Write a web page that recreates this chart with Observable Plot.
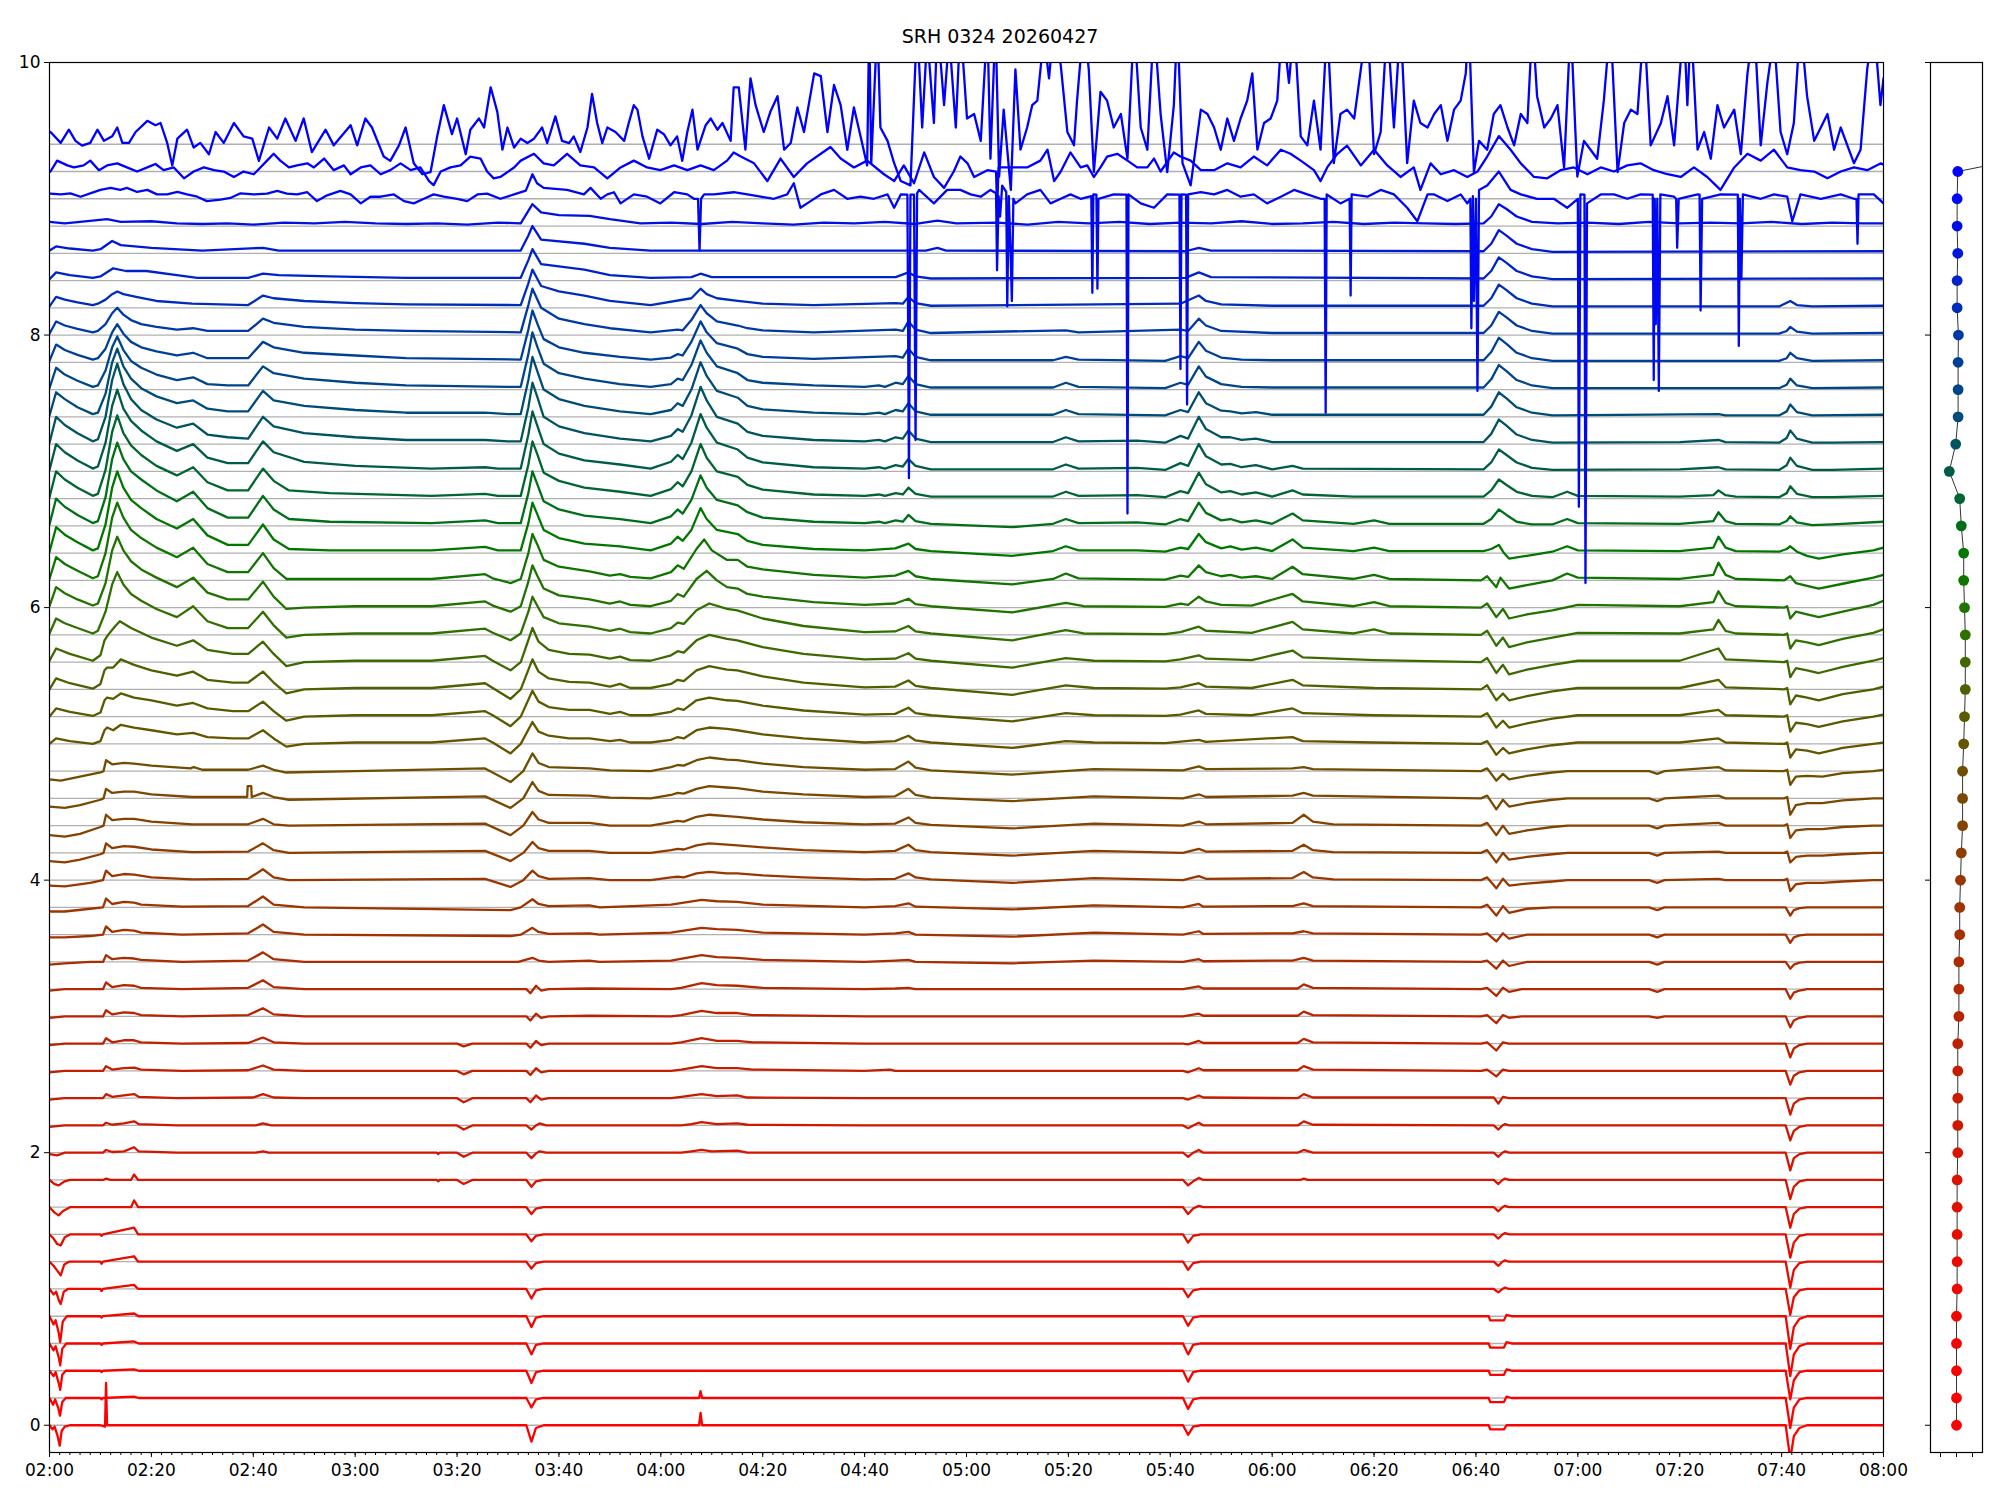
<!DOCTYPE html>
<html>
<head>
<meta charset="utf-8">
<script src="https://cdn.jsdelivr.net/npm/d3@7"></script>
<script src="https://cdn.jsdelivr.net/npm/@observablehq/plot@0.6"></script>
<style>
  body { margin: 0; background: #fff; }
  #wrap { position: relative; width: 2000px; height: 1500px; background: #fff; font-family: "DejaVu Sans", sans-serif; }
  #title { position: absolute; left: 0; top: 25px; width: 2000px; text-align: center; font-size: 19px; color: #000; }
  #main { position: absolute; left: 0; top: 0; }
  #side { position: absolute; left: 1910px; top: 0; }
</style>
</head>
<body>
<div id="wrap">
  <div id="main"></div>
  <div id="side"></div>
  <div id="title">SRH 0324 20260427</div>
</div>
<script>
// ---------------- data ----------------
const titleText = "SRH 0324 20260427";
const xTickLabels = ["02:00","02:20","02:40","03:00","03:20","03:40","04:00","04:20","04:40","05:00","05:20","05:40","06:00","06:20","06:40","07:00","07:20","07:40","08:00"];
const yTicks = [0, 2, 4, 6, 8, 10];
const sideXTicks = [-1, 0, 1];
// baseline of each of the 48 channels
const offsets = [0,0.2,0.4,0.6,0.8,1.0,1.2,1.4,1.6,1.8,2.0,2.2,2.4,2.6,2.8,3.0,3.2,3.4,3.6,3.8,4.0,4.2,4.4,4.6,4.8,5.0,5.2,5.4,5.6,5.8,6.0,6.2,6.4,6.6,6.8,7.0,7.2,7.4,7.6,7.8,8.0,8.2,8.4,8.6,8.8,9.0,9.2,9.4];
// position of each channel's dot in the right panel
const dotPhase = [0,0,0,0,0,0.04,0.04,0.04,0.04,0.04,0.08,0.08,0.08,0.08,0.08,0.15,0.15,0.15,0.2,0.2,0.25,0.3,0.38,0.38,0.38,0.45,0.5,0.55,0.55,0.55,0.5,0.45,0.45,0.3,0.2,-0.45,-0.05,0.1,0.1,0.1,0.12,0.04,0.04,0.08,0.04,0.04,0.08,8.5];
// colour stops (channel index -> colour)
const colorStopChannels = [0,5,10,15,20,23,26,29,32,35,37,40,43,46,47];
const colorStopValues = ["#ff0000","#ec0a00","#d51500","#b82400","#983800","#7a4800","#5a5a00","#307000","#007800","#005c48","#004c78","#0038a8","#0018d8","#0000ff","#0000ff"];

// traces: "minute:deviation" pairs (minutes after 02:00, deviation from the channel baseline)
const lowBand = [
"0:0 0.6:-0.03 1:-0.01 1.6:-0.08 2:-0.15 2.4:-0.04 3:-0.01 4:0 10:0 10.9:-0.01 11.1:0.31 11.3:0 60:0 93.6:0 94.6:-0.12 95.5:-0.02 97:0 127.5:0 127.8:0.09 128.1:0 222.5:0 223.5:-0.07 224.5:-0.01 226:0 282.5:0 282.8:-0.03 285.5:-0.03 286:0 340.8:0 341.7:-0.25 342.4:-0.08 343.5:-0.02 345:0 360:0",
"0:0 0.7:-0.05 1.1:-0.01 1.7:-0.07 2.05:-0.13 2.5:-0.03 3.2:0 10:0 10.2:-0.01 10.5:0 16.6:0.01 17.5:0 93.6:0 94.6:-0.07 95.5:-0.01 97:0 127.5:0 127.8:0.05 128.1:0 222.5:0 223.5:-0.08 224.5:-0.01 226:0 282.5:0 282.8:-0.03 285.5:-0.03 286:0.01 287:0 340.8:0 341.7:-0.22 342.4:-0.07 343.5:-0.01 345:0 360:0",
"0:0 0.8:-0.04 1.2:-0.01 1.8:-0.09 2.1:-0.14 2.5:-0.03 3.2:0 10:0 10.2:-0.01 10.5:0 16.6:0.01 17.5:0 93.6:0 94.6:-0.09 95.5:-0.01 97:0 222.5:0 223.5:-0.08 224.5:-0.01 226:0 282.5:0 282.8:-0.03 285.5:-0.03 286:0.01 287:0 340.8:0 341.7:-0.21 342.4:-0.07 343.5:-0.01 345:0 360:0",
"0:0 0.8:-0.05 1.2:-0.02 1.8:-0.1 2.1:-0.16 2.5:-0.04 3.3:0 10:0 10.2:-0.01 10.5:0 16.6:0.015 17.5:0 93.6:0 94.6:-0.08 95.5:-0.01 97:0 222.5:0 223.5:-0.08 224.5:-0.01 226:0 282.5:0 282.8:-0.03 285.5:-0.03 286:0.01 287:0 340.8:0 341.7:-0.24 342.4:-0.08 343.5:-0.02 345:0 360:0",
"0:0 0.8:-0.06 1.2:-0.03 1.8:-0.12 2.1:-0.19 2.6:-0.04 3.4:0 10:0 10.2:-0.01 10.5:0 16.6:0.02 17.5:0 93.6:0 94.6:-0.08 95.5:-0.01 97:0 222.5:0 223.5:-0.07 224.5:-0.01 226:0 282.5:0 282.8:-0.03 285.5:-0.03 286:0.01 287:0 340.8:0 341.7:-0.24 342.4:-0.08 343.5:-0.02 345:0 360:0",
"0:0 0.8:-0.04 1.3:-0.02 1.8:-0.08 2.2:-0.11 2.8:-0.02 3.6:0 10:0 10.2:-0.015 10.5:0 16.6:0.03 17.4:0 93.6:0 94.6:-0.07 95.5:-0.01 97:0 222.5:0 223.5:-0.06 224.5:-0.01 226:0 283.5:0 284.4:-0.025 285.2:0 285.7:0.01 286.5:0 340.8:0 341.7:-0.19 342.4:-0.06 343.5:-0.01 345:0 360:0",
"0:0 0.8:-0.03 1.4:-0.06 2.2:-0.1 2.9:-0.02 3.8:0 10:0 10.2:-0.015 10.5:0 16.6:0.04 17.4:0 93.6:0 94.6:-0.05 95.5:-0.01 97:0 222.5:0 223.5:-0.06 224.5:-0.01 226:0 283.5:0 284.4:-0.03 285.2:0 285.7:0.01 286.5:0 340.8:0 341.7:-0.19 342.4:-0.06 343.5:-0.01 345:0 360:0",
"0:0 0.8:-0.03 1.5:-0.07 2.2:-0.08 3:-0.02 4:0 10:0 10.2:-0.01 10.5:0 16.6:0.05 17.4:0 93.6:0 94.6:-0.05 95.5:-0.01 97:0 222.5:0 223.5:-0.06 224.5:-0.01 226:0 283.5:0 284.4:-0.03 285.2:0 285.7:0.01 286.5:0 340.8:0 341.7:-0.17 342.4:-0.06 343.5:-0.01 345:0 360:0",
"0:0 1:-0.04 1.8:-0.06 2.6:-0.03 4:0 16:0 16.6:0.05 17.4:0 93.6:0 94.6:-0.05 95.5:-0.01 97:0 222.5:0 223.5:-0.05 224.5:-0.01 225.6:0.01 226.5:0 283.5:0 284.4:-0.03 285.2:0 285.7:0.01 286.5:0 340.8:0 341.7:-0.15 342.4:-0.05 343.5:-0.01 345:0 360:0",
"0:0 1:-0.03 1.8:-0.04 3:-0.01 4:0 10.5:0 11.1:0.01 12:0 16:0 16.6:0.04 17.4:0 76:0 76.3:-0.01 76.6:0 80:0 81.3:-0.03 83:0 93.6:0 94.6:-0.05 95.5:-0.01 97:0 222.5:0 223.5:-0.04 224.5:-0.01 225.6:0.015 226.5:0 245.5:0 246.2:0.01 247:0 283.5:0 284.4:-0.03 285.2:0 285.7:0.01 286.5:0 340.8:0 341.7:-0.14 342.4:-0.05 343.5:-0.01 345:0 360:0",
"0:-0.01 1.5:-0.02 3:0 10.5:0 11.1:0.02 12.3:0.005 14.6:0.01 16.6:0.04 17.5:0.01 25:0 40.5:0 41.9:0.01 43:0 76:0 76.3:-0.01 76.6:0 80:0 81.3:-0.03 83:0 93.6:0 94.6:-0.04 95.5:-0.005 96.2:0.01 97.5:0 124:0 126:0.01 128:0.02 130:0.01 135:0.015 137:0 222.5:0 223.5:-0.03 224.5:0 225.6:0.02 226.5:0 245:0 246.2:0.02 248:0 283.5:0 284.4:-0.03 285.2:0 285.7:0.01 286.5:0 340.8:0 341.7:-0.13 342.4:-0.04 343.5:-0.01 345:0 360:0",
"0:-0.01 3:0 10.5:0 11.1:0.02 12.3:0.005 14.6:0.015 16.6:0.03 17.5:0.01 25:0 40.5:0 41.9:0.015 43.5:0 80:0 81.3:-0.03 83:0 93.6:0 94.6:-0.03 95.5:0 96.2:0.015 97.5:0 124:0 126:0.01 128:0.025 131:0.01 135:0.015 137:0.005 160:0 222.5:0 223.5:-0.02 224.5:0 225.6:0.02 226.5:0 245:0 246.2:0.03 248:0.005 283.5:0 284.4:-0.03 285.2:0 285.7:0.01 286.5:0 340.8:0 341.7:-0.11 342.4:-0.04 343.5:-0.01 345:0 360:0",
"0:-0.01 3:0 10.5:0 11.1:0.03 12.3:0.01 14.6:0.02 16.6:0.03 17.5:0.01 25:0 40:0.005 41.9:0.03 44:0.005 50:0 80:0 81.3:-0.03 83:0 93.6:0 94.4:-0.03 95.5:0.02 96.5:-0.01 98:0 122:0 124:0.01 128:0.03 131:0.015 135:0.02 137:0.005 160:0 222.5:0 223.5:-0.01 225.6:0.02 226.5:0.005 245:0 246.2:0.03 248:0.005 283.5:0.005 284.4:-0.04 285.3:0.01 286.5:0 340.8:0 341.7:-0.12 342.4:-0.04 343.5:-0.01 345:0 360:0",
"0:-0.01 3:0 10.5:0 11.1:0.035 12.3:0.01 14.6:0.02 16.6:0.025 18:0.01 26:0 39:0.005 41.9:0.04 44:0.01 50:0 80:0 81.3:-0.025 83:0 93.6:0 94.4:-0.03 95.5:0.02 96.5:-0.01 98:0 122:0 124:0.01 128:0.035 131:0.02 135:0.02 138:0.01 160:0 165:0.01 166:0 222.5:0 223.5:-0.01 225.6:0.02 226.5:0.005 245:0.005 246.2:0.035 248:0.01 281:0 282.2:0.01 284:-0.04 285.3:0.01 286.5:0 340.8:0 341.7:-0.1 342.4:-0.035 343.5:-0.01 345:0 360:0",
"0:-0.01 3:0 10.5:0 11.1:0.04 12.3:0.01 14.6:0.025 16.6:0.025 18:0.01 26:0 39:0.005 41.9:0.045 44:0.01 50:0 80:0 81.3:-0.02 83:0 93.6:0 94.4:-0.03 95.5:0.02 96.5:-0.01 98:0 122:0 124:0.01 128:0.04 131:0.02 135:0.02 138:0.01 160:0 222.5:0 223.5:-0.005 225.6:0.02 226.5:0.005 245:0.005 246.2:0.035 248:0.01 281:0 282.2:0.01 284:-0.05 285.3:0.01 286.5:0 340.8:0 341.7:-0.1 342.4:-0.035 343.5:-0.01 345:0 360:0",
"0:-0.01 3:0 10.5:0 11.1:0.045 12.3:0.015 14.6:0.03 16.6:0.025 18:0.01 26:0 39:0.01 41.9:0.06 44:0.015 50:0 93.6:0 94.4:-0.03 95.5:0.02 96.5:-0.01 98:0 106:0.005 122:0 124:0.01 128:0.04 131:0.025 135:0.025 138:0.01 160:0 222.5:0 225.6:0.02 226.5:0.005 245:0.005 246.2:0.035 248:0.01 281:0 282.2:0.01 284:-0.05 285.3:0.01 286.5:-0.01 289:0 314:0 315.6:-0.01 317:0 340.8:0 341.7:-0.08 342.4:-0.03 343.5:-0.01 345:0 360:0",
"0:-0.01 3:0 10.5:0 11.1:0.05 12.3:0.015 14.6:0.03 16.6:0.025 18:0.01 26:0 39:0.01 41.9:0.065 44:0.015 50:0 93.6:0 94.4:-0.03 95.5:0.025 96.5:-0.01 98:0 106:0.005 122:0 124:0.01 128:0.045 131:0.03 135:0.025 140:0.01 160:0 166:0.005 168.6:0.01 170:0 222.5:0 225.6:0.02 226.5:0.005 245:0.005 246.2:0.035 248:0.01 281:0 282.2:0.01 284:-0.05 285.3:0.01 286.5:-0.02 289:0 314:0 315.6:-0.02 317:0 340.8:0 341.7:-0.07 342.4:-0.025 343.5:-0.01 345:0 360:0",
"0:-0.02 3:-0.01 8:0 10.5:0 11.1:0.05 12.3:0.02 14.6:0.03 16.6:0.025 18:0.015 26:0 39:0.01 41.9:0.07 44:0.02 50:0 92:0 94.8:0.03 96:0.01 98:0 106:0.01 108:0 122:0.01 128:0.05 131:0.035 135:0.03 140:0.015 160:0 166:0.01 168.6:0.015 170:0 189:-0.01 205:0.01 222.5:0 225.6:0.02 226.5:0.005 244:0.01 246.2:0.03 248:0.01 281:0 282.2:0.01 284:-0.05 285.3:0.01 286.5:-0.03 290:0 314:0 315.6:-0.02 317:0 340.8:0 341.7:-0.05 342.4:-0.02 343.5:-0.005 345:0 360:0",
"0:-0.02 3:-0.02 8:-0.01 10.5:0 11.1:0.06 12.3:0.02 14.6:0.035 16.6:0.03 18:0.015 26:0 39:0.01 41.9:0.075 44:0.02 50:0 90.5:-0.01 92.5:0 94.8:0.05 96:0.02 98:0.005 106:0.01 108:0 122:0.015 128:0.05 131:0.04 135:0.035 140:0.015 160:0 166:0.01 168.6:0.02 170:0 189:-0.015 205:0.015 222.5:0 225.6:0.025 226.5:0.005 244:0.01 246.2:0.025 248:0.01 281:0 282.2:0.01 284:-0.05 285.3:0.01 286.5:-0.03 290:0 314:0 315.6:-0.02 317:0 340.8:0 341.7:-0.06 342.4:-0.02 343.5:-0.005 345:0 360:0",
"0:-0.03 3:-0.03 8:-0.01 10.5:0 11.1:0.065 12.3:0.025 14.6:0.04 16.6:0.035 18:0.02 26:0.005 39:0.01 41.9:0.08 44:0.02 50:0 90.5:-0.02 92.5:0 94.8:0.06 96:0.025 98:0.01 106:0.015 108:0 122:0.02 128:0.055 131:0.045 135:0.04 140:0.02 160:0 166:0.01 168.6:0.03 170:0.005 189:-0.015 205:0.015 222.5:0 225.6:0.025 226.5:0.005 244:0.01 246.2:0.03 248:0.01 281:0 282.2:0.02 284:-0.06 285.3:0.01 286.5:-0.04 290:-0.01 295:0 314:0 315.6:-0.02 317:0 340.8:0 341.7:-0.06 342.4:-0.02 343.5:-0.005 345:0 360:0",
"0:-0.04 3:-0.045 8:-0.02 10.5:0 11.1:0.07 12.3:0.03 14.6:0.045 16.6:0.04 20:0.02 28:0.005 39:0.01 41.9:0.08 44:0.02 47:0 85.5:0.01 90.5:-0.05 93:0 94.8:0.07 96:0.03 98:0.01 106:0.015 110:0 118:0 122:0.02 123.3:0.025 124.5:0.02 127:0.05 129.5:0.06 133:0.05 135:0.05 140:0.035 148:0.02 160:0.005 166:0.01 168.6:0.05 170:0.02 173:0.005 189:-0.02 205:0.015 222.5:0 225.6:0.03 227:0.01 244:0.015 246.2:0.06 248:0.02 252:0.005 281:0 282.2:0.02 284:-0.06 285.3:0.01 286.5:-0.04 290:-0.025 295:-0.01 298:0 314:0 315.6:-0.02 317:0 327.6:0.01 329:0 340.5:0 341.1:0.01 341.7:-0.08 342.8:-0.03 345:-0.02 348:-0.02 352:-0.01 358:0 360:0",
"0:-0.06 3:-0.07 6:-0.05 10:-0.01 10.6:0 11.1:0.07 12.3:0.035 14.6:0.05 16.6:0.045 20:0.025 28:0.005 39:0.01 41.9:0.07 44:0.02 47:0 85.5:0.015 90.5:-0.06 93:0 94.8:0.08 96:0.035 98:0.015 106:0.015 110:0 118:0 122:0.02 123.3:0.03 124.5:0.025 127:0.055 129.5:0.07 133:0.06 135:0.055 140:0.04 148:0.02 160:0.005 166:0.015 168.6:0.06 170:0.02 173:0.005 189:-0.02 205:0.015 222.5:0 225.6:0.03 227:0.01 244:0.015 246.2:0.06 248:0.02 252:0.005 281:0 282.2:0.02 284:-0.07 285.3:0 286.5:-0.05 290:-0.03 295:-0.01 298:0 314:0 315.6:-0.02 317:0 327.6:0.01 329:0 340.5:0 341.1:0.01 341.7:-0.07 342.8:-0.03 345:-0.02 348:-0.02 352:-0.01 358:0 360:0",
"0:-0.07 3:-0.08 6:-0.06 10:-0.01 10.6:0 11.1:0.08 12.3:0.04 14.6:0.05 16.6:0.05 20:0.03 28:0.01 39:0.01 41.9:0.05 44:0.01 47:0 85.5:0.015 90.5:-0.07 93:0 94.8:0.1 96:0.045 98:0.02 106:0.02 110:0 118:0 122:0.025 123.3:0.035 124.5:0.03 127:0.065 129.5:0.08 133:0.07 135:0.065 140:0.045 148:0.025 160:0.01 166:0.015 168.6:0.06 170:0.02 173:0.005 189:-0.02 205:0.015 222.5:0 225.6:0.03 227:0.01 244:0.02 246.2:0.08 248:0.03 252:0.01 281:0 282.2:0.02 284:-0.07 285.3:0 286.5:-0.06 290:-0.035 295:-0.01 298:0 314:0 315.6:-0.02 317:0 327.6:0.02 329:0 340.5:0 341.1:0.01 341.7:-0.09 342.8:-0.035 345:-0.025 348:-0.025 352:-0.01 358:0 360:0",
"0:-0.06 3:-0.07 6:-0.05 10:-0.01 10.6:0 11.1:0.07 12.3:0.04 14.6:0.05 16.6:0.05 20:0.03 28:0.01 38.8:0.01 38.9:0.09 39.6:0.09 39.7:0.01 41.9:0.04 44:0.01 47:-0.01 85.5:0.015 90.5:-0.07 93:0 94.8:0.12 96:0.055 98:0.025 106:0.02 110:0.005 118:0 122:0.025 123.3:0.04 124.5:0.035 127:0.07 129.5:0.09 133:0.08 135:0.075 140:0.05 148:0.03 160:0.01 166:0.015 168.6:0.07 170:0.025 173:0.005 189:-0.02 205:0.015 222.5:0 225.6:0.03 227:0.01 244:0.02 246.2:0.04 248:0.02 281:0 282.2:0.02 284:-0.08 285.3:-0.01 286.5:-0.06 290:-0.035 295:-0.01 298:0 314:0 315.6:-0.02 317:0 327.6:0.02 329:0 340.5:0 341.1:0.01 341.7:-0.12 342.8:-0.05 345:-0.035 348:-0.035 352:-0.015 358:0 360:0",
"0:-0.06 2.2:-0.07 4.8:-0.05 10:-0.01 10.6:0 11.1:0.08 12.3:0.05 14.6:0.06 16.6:0.055 20:0.04 27.7:0.02 28.3:0.03 30:0.01 39:0.01 41.9:0.04 44:0.01 46.3:-0.01 60:0 85.5:0.02 90.5:-0.08 93:0 94.8:0.13 96:0.06 98:0.03 106:0.02 110:0.005 118:0 122:0.03 123.3:0.045 124.5:0.04 127:0.08 129.5:0.1 133:0.085 135:0.08 140:0.055 148:0.03 160:0.01 166:0.015 168.6:0.07 170:0.025 173:0.005 189:-0.025 205:0.015 222.5:0.005 225.6:0.035 227:0.015 244:0.02 246.2:0.03 248:0.015 281:0 282.2:0.02 284:-0.07 285.3:-0.02 286.5:-0.06 290:-0.035 295:-0.01 298:0 314:0 315.6:-0.02 317:0 327.6:0.03 329:0.005 340.5:0 341.1:0.01 341.7:-0.1 342.8:-0.04 345:-0.035 348:-0.04 352:-0.015 358:0 360:0.01"
];

const midBand = [
"0:0 1.3:0.04 4:0.02 8.5:0 10:0.02 10.8:0.1 11.3:0.12 12.5:0.1 14:0.14 16.6:0.12 20:0.1 25:0.07 28.2:0.08 31:0.05 36:0.04 39:0.04 41.9:0.1 44:0.04 46.5:-0.02 50:0 60:0.01 75:0.01 85.5:0.04 87:0.01 90.5:-0.07 92.5:0 94.8:0.16 96:0.09 98:0.06 102:0.04 106:0.04 110:0.02 112:0.03 114:0.01 118:0.01 122:0.03 123.3:0.05 124.5:0.04 127:0.1 129.5:0.12 133:0.11 135:0.1 140:0.07 148:0.04 160:0.01 166:0.02 168.6:0.06 170:0.025 173:0.01 189:-0.03 199.5:0.02 205:0.01 219:0.005 225.6:0.03 227:0.015 244:0.05 246:0.02 260:0.01 281:0 282.2:0.02 284:-0.08 285.3:-0.03 286.5:-0.07 290:-0.04 295:-0.01 300:0.01 320:0.01 327.6:0.04 329:0.01 340.5:0 341.1:0.01 341.7:-0.1 342.8:-0.04 345:-0.05 347.3:-0.07 352:-0.03 358:0 360:0.01",
"0:0 1.3:0.06 4:0.035 8.5:0.005 10:0.03 10.8:0.12 11.3:0.14 12.5:0.13 14:0.17 16.6:0.14 20:0.12 25:0.08 28.2:0.1 31:0.06 36:0.04 39:0.04 41.9:0.11 44:0.04 46.5:-0.03 50:0 60:0.01 75:0.01 85.5:0.04 87:0.01 90.5:-0.07 92.5:0 94.8:0.19 96:0.11 98:0.07 102:0.05 106:0.05 110:0.02 112:0.035 114:0.01 118:0.01 122:0.035 123.3:0.06 124.5:0.05 127:0.12 129.5:0.14 133:0.12 135:0.115 140:0.08 148:0.045 160:0.015 166:0.02 168.6:0.065 170:0.025 173:0.01 189:-0.035 199.5:0.025 205:0.01 219:0.005 222:0.015 225.6:0.045 227:0.02 236:0.01 244:0.06 246:0.025 260:0.01 281:0 282.2:0.025 284:-0.08 285.3:-0.03 286.5:-0.08 290:-0.05 295:-0.015 300:0.01 320:0.01 327.6:0.05 329:0.01 340.5:0 341.1:0.01 341.7:-0.11 342.8:-0.045 345:-0.055 347.3:-0.075 352:-0.035 358:0 360:0.015",
"0:0 1.3:0.08 4:0.045 8.5:0.005 10:0.04 10.8:0.14 11.3:0.16 12.5:0.16 14:0.22 16.6:0.18 20:0.14 25:0.1 28.2:0.13 31:0.07 36:0.05 39:0.05 41.9:0.13 44:0.05 46.5:-0.03 50:0 60:0.01 75:0.01 85.5:0.045 87:0.01 90.5:-0.07 92.5:0 94.8:0.22 96:0.13 98:0.08 102:0.055 106:0.05 110:0.02 112:0.04 114:0.01 118:0.01 122:0.04 123.3:0.07 124.5:0.06 127:0.14 129.5:0.17 133:0.145 135:0.14 140:0.095 148:0.05 160:0.015 166:0.02 168.6:0.065 170:0.025 173:0.01 189:-0.04 199.5:0.03 205:0.01 219:0.005 222:0.015 225.6:0.045 227:0.02 236:0.01 244:0.07 246:0.03 260:0.01 281:0 282.2:0.03 284:-0.08 285.3:-0.03 286.5:-0.08 290:-0.05 295:-0.015 300:0.01 320:0.01 327.6:0.07 329:0.015 340.5:0 341.1:0.01 341.7:-0.11 342.8:-0.045 345:-0.06 347.3:-0.08 352:-0.035 358:0 360:0.02",
"0:0.01 1.3:0.1 4:0.06 8.5:0.01 10:0.05 10.8:0.16 11.5:0.2 12.8:0.26 13.8:0.3 16:0.25 20:0.18 25:0.12 28.2:0.16 31:0.09 36:0.06 39:0.06 41.9:0.15 44:0.06 46.5:-0.03 50:0 60:0.01 75:0.01 85.5:0.045 87:0.01 90.5:-0.06 92.5:0 94.8:0.25 96:0.15 98:0.09 102:0.06 106:0.055 110:0.025 112:0.04 114:0.015 118:0.01 122:0.05 123.3:0.08 124.5:0.07 127:0.16 129.5:0.2 133:0.17 135:0.16 140:0.11 148:0.06 160:0.02 166:0.025 168.6:0.065 170:0.025 173:0.01 189:-0.04 199.5:0.03 205:0.01 219:0.005 222:0.02 225.6:0.05 227:0.025 236:0.015 244:0.085 246:0.035 260:0.015 281:0 282.2:0.03 284:-0.08 285.3:-0.02 286.5:-0.09 290:-0.055 295:-0.02 300:0.01 320:0.01 327.6:0.1 329:0.02 340.5:0 341.1:0.01 341.7:-0.11 342.8:-0.045 345:-0.06 347.3:-0.08 352:-0.035 358:0.01 360:0.03",
"0:0.01 1.3:0.12 3:0.085 5.5:0.05 8.5:0.01 9.5:0.03 11:0.17 12.3:0.37 13.3:0.46 14.5:0.37 16:0.3 18:0.25 21:0.19 25:0.13 28.2:0.21 31:0.1 35:0.05 39:0.05 41.9:0.17 44:0.07 46.5:-0.02 50:0 60:0.01 75:0.01 85.5:0.045 87:0.015 90.5:-0.04 92.5:0.01 94:0.17 94.8:0.28 95.8:0.21 97:0.13 100:0.085 106:0.06 110:0.03 112:0.045 114:0.02 118:0.01 122:0.05 123.3:0.09 124.5:0.08 127:0.18 129.5:0.23 133:0.19 135:0.18 140:0.12 148:0.065 160:0.02 166:0.025 168.6:0.065 170:0.025 173:0.01 189:-0.04 199.5:0.035 203:0.01 219:0.005 222:0.02 225.6:0.06 227:0.03 236:0.015 244:0.095 246:0.04 256:0.01 260:0.04 263:0.01 281:0 282.2:0.03 284:-0.08 285.3:-0.02 286.5:-0.09 290:-0.055 295:-0.02 300:0.015 320:0.01 326.6:0.04 327.6:0.11 329:0.03 331:0.01 340.5:0 341.1:0.01 341.7:-0.1 342.8:-0.04 345:-0.055 347.3:-0.075 352:-0.03 358:0.015 360:0.04",
"0:0.01 1.3:0.15 3:0.105 5.5:0.06 8.5:0.015 9.5:0.03 11:0.18 12.3:0.42 13.3:0.52 14.5:0.42 16:0.34 18:0.28 21:0.22 25:0.15 28.2:0.22 31:0.11 35:0.06 39:0.06 41.9:0.19 44:0.08 46.5:-0.01 50:0 60:0.01 75:0.01 85.5:0.045 87:0.015 90.5:-0.03 92.5:0.01 94:0.19 94.8:0.31 95.8:0.23 97:0.14 100:0.09 106:0.06 110:0.03 112:0.045 114:0.02 118:0.01 122:0.05 123.3:0.1 124.5:0.08 127:0.21 129:0.27 131:0.2 133:0.15 135.1:0.14 137:0.1 140:0.08 150:0.04 160:0.02 166:0.03 168.6:0.065 170:0.025 173:0.01 189:-0.035 199.5:0.035 203:0.01 219:0.005 222:0.03 223.5:0.02 225.6:0.08 227:0.045 230:0.02 236:0.015 244:0.1 246:0.045 256:0.01 260:0.04 263:0.01 281:0 282.2:0.03 284:-0.07 285.3:-0.01 286.5:-0.08 290:-0.05 295:-0.02 300:0.02 320:0.01 326.6:0.04 327.6:0.12 329:0.035 331:0.01 340.5:0 341.1:0.01 341.7:-0.08 342.8:-0.03 345:-0.05 347.3:-0.07 352:-0.03 358:0.02 360:0.05",
"0:0.01 1.3:0.17 3:0.12 5.5:0.07 8.5:0.015 9.5:0.03 11:0.2 12.3:0.46 13.3:0.57 14.5:0.46 16:0.37 18:0.31 21:0.24 25:0.17 28.2:0.24 31:0.12 35:0.06 39:0.06 41.9:0.2 44:0.09 46.5:0.01 50:0.01 60:0.01 75:0.01 85.5:0.045 87:0.015 90.5:-0.02 92.5:0.01 94:0.2 94.8:0.34 95.8:0.26 97:0.15 100:0.1 106:0.065 110:0.035 112:0.045 114:0.025 118:0.015 122:0.06 123.3:0.11 124.5:0.085 127:0.23 128.5:0.3 130:0.22 133:0.15 135.1:0.15 137:0.1 140:0.08 150:0.04 160:0.02 166:0.035 168.6:0.07 170:0.03 173:0.01 189:-0.03 197:0.01 199.5:0.05 202:0.015 219:0.005 222:0.035 223.5:0.025 225.6:0.11 227:0.06 230:0.03 231.8:0.04 234:0.02 236.8:0.03 240:0.01 244:0.1 246:0.045 256:0.01 260:0.04 263:0.01 281:0 282.2:0.03 284:-0.05 284.8:0.02 286.5:-0.06 290:-0.035 295:0 297.9:0.05 300:0.02 320:0.01 326.6:0.04 327.6:0.13 329:0.04 331:0.01 340.5:0 341.7:0.03 342.8:-0.02 345:-0.04 347.3:-0.06 352:-0.025 358:0.02 360:0.04",
"0:0.01 1.3:0.19 3:0.135 5.5:0.08 8.5:0.02 9.5:0.035 11:0.21 12.3:0.48 13.3:0.6 14.5:0.48 16:0.39 18:0.33 21:0.25 25:0.18 28.2:0.25 31:0.13 35:0.06 39:0.06 41.9:0.21 44:0.1 47:0.03 55:0.02 75:0.02 85.5:0.045 88:0.02 92.5:0.02 94:0.22 94.8:0.37 95.8:0.28 97:0.17 100:0.11 105:0.07 112:0.05 118:0.02 122:0.07 123.3:0.12 124.3:0.09 126:0.17 127.8:0.33 129:0.25 131:0.17 135.1:0.14 137:0.09 140:0.06 150:0.03 160:0.02 166:0.035 168.6:0.07 170:0.03 173:0.015 189:-0.02 197:0.015 199.5:0.05 202:0.02 213.5:0.02 219:0.01 222:0.04 223.5:0.03 225.6:0.14 227:0.08 230:0.035 231.8:0.05 234:0.025 236.8:0.04 240:0.015 244:0.1 246:0.04 256:0.015 260:0.04 263:0.015 281.5:0.015 283:0.03 284.5:0.06 285.5:0 286.5:-0.04 290:-0.02 295:0.01 297.9:0.05 300:0.02 320:0.015 326.6:0.04 327.6:0.12 329:0.04 331:0.015 339.5:0.01 341:0.03 341.7:0.05 343:0.01 345:-0.02 347.3:-0.04 352:-0.01 358:0.02 360:0.04",
"0:0.01 1.3:0.2 3:0.14 5.5:0.08 8.5:0.02 9.5:0.035 11:0.21 12.3:0.49 13.3:0.61 14.5:0.49 16:0.4 18:0.34 21:0.26 25:0.18 28.2:0.25 31:0.13 35:0.06 39:0.06 41.9:0.22 44:0.12 47:0.05 55:0.03 75:0.02 85.5:0.04 88:0.02 92.5:0.02 94:0.24 94.8:0.4 95.8:0.3 97:0.18 100:0.12 105:0.075 112:0.05 118:0.02 122:0.07 123.3:0.12 124.3:0.09 126:0.19 127.8:0.37 129:0.28 131:0.19 135.1:0.15 137:0.1 140:0.06 150:0.03 160:0.02 162.8:0.03 164:0.02 166.1:0.04 167.5:0.03 168.6:0.08 170:0.035 173:0.015 189:-0.01 197:0.015 199.5:0.05 202:0.02 213.5:0.025 219:0.01 222:0.05 223.5:0.035 225.6:0.17 227:0.095 230:0.04 231.8:0.05 234:0.025 236.8:0.04 240:0.015 244:0.09 246:0.04 256:0.015 260:0.04 263:0.015 281.5:0.015 283:0.05 284.5:0.12 286:0.08 288:0.03 291:0.01 295:0.01 297.9:0.05 300:0.02 320:0.015 326.6:0.035 327.6:0.1 329:0.035 331:0.015 339.5:0.01 341:0.035 341.7:0.07 343:0.025 346:0.005 350:0.01 360:0.03",
"0:0.01 1.3:0.2 3:0.14 5.5:0.08 8.5:0.02 9.5:0.035 11:0.21 12.3:0.49 13.3:0.61 14.5:0.48 16:0.39 18:0.32 21:0.24 25:0.17 28.2:0.23 31:0.12 35:0.06 39:0.06 41.9:0.22 44:0.13 47:0.06 55:0.04 75:0.02 85.5:0.035 88:0.02 92.5:0.02 94:0.25 94.8:0.42 95.8:0.32 97:0.19 100:0.13 105:0.08 112:0.05 118:0.02 122:0.07 123.3:0.12 124.3:0.09 126:0.2 127.8:0.4 129:0.3 131:0.2 135.1:0.16 137:0.1 140:0.065 150:0.03 160:0.02 162.8:0.03 164:0.02 166.1:0.04 167.5:0.03 168.6:0.08 170:0.035 173:0.015 197:0.015 199.5:0.05 202:0.02 213.5:0.025 219:0.01 222:0.055 223.5:0.04 225.6:0.19 227:0.105 230:0.045 231.8:0.055 234:0.03 236.8:0.045 240:0.015 244:0.06 246:0.03 256:0.015 281.5:0.015 283:0.06 284.5:0.14 286:0.1 288:0.05 291:0.02 295:0.01 297.9:0.05 300:0.02 320:0.015 326.6:0.025 327.6:0.06 329:0.025 331:0.015 339.5:0.01 341:0.04 341.7:0.09 343:0.035 346:0.01 350:0.01 360:0.02",
"0:0.01 1.3:0.2 3:0.14 5.5:0.08 8.5:0.02 9.5:0.035 11:0.21 12.3:0.48 13.3:0.6 14.5:0.46 16:0.37 18:0.3 21:0.22 25:0.15 28.2:0.2 31:0.1 35:0.06 39:0.06 41.9:0.22 44:0.14 50:0.07 60:0.04 75:0.02 85.5:0.03 88:0.02 92.5:0.02 94:0.27 94.8:0.44 95.8:0.33 97:0.2 100:0.13 105:0.08 112:0.05 118:0.02 122:0.07 123.3:0.12 124.3:0.09 126:0.21 127.8:0.42 129:0.32 131:0.21 135.1:0.16 137:0.1 140:0.065 150:0.03 160:0.02 162.8:0.03 164:0.02 166.1:0.045 167.5:0.035 168.6:0.09 170:0.04 173:0.015 197:0.015 199.5:0.05 202:0.02 213.5:0.025 219:0.01 222:0.06 223.5:0.04 225.6:0.2 227:0.11 230:0.05 231.8:0.055 234:0.03 236.8:0.045 240:0.015 244:0.04 246:0.02 281.5:0.015 283:0.065 284.5:0.16 286:0.12 288:0.065 291:0.025 295:0.01 320:0.015 327.6:0.03 329:0.015 339.5:0.01 341:0.045 341.7:0.1 343:0.04 346:0.01 350:0.01 360:0.02",
"0:0.01 1.3:0.2 3:0.14 5.5:0.08 8.5:0.02 9.5:0.035 11:0.2 12.3:0.47 13.3:0.59 14.5:0.44 16:0.33 18:0.25 21:0.18 25:0.12 28.2:0.15 31:0.07 35:0.05 39:0.04 41.9:0.2 44:0.13 50:0.08 60:0.05 70:0.03 85.5:0.03 90:0.02 92.5:0.02 94:0.27 94.8:0.45 95.8:0.34 97:0.2 100:0.13 105:0.08 112:0.04 118:0.02 122:0.06 123.3:0.11 124.3:0.09 126:0.21 127.8:0.42 129:0.32 131:0.2 135.1:0.15 137:0.09 140:0.06 150:0.03 160:0.02 162.8:0.03 164:0.02 166.1:0.05 167.5:0.04 168.6:0.1 170:0.04 173:0.015 197:0.015 199.5:0.05 202:0.02 213.5:0.025 219:0.01 222:0.06 223.5:0.04 225.6:0.2 227:0.11 230:0.05 231.8:0.05 234:0.03 236.8:0.04 240:0.015 281.5:0.015 283:0.075 284.5:0.18 286:0.135 288:0.07 291:0.03 295:0.01 320:0.015 327.6:0.03 329:0.015 339.5:0.01 341:0.045 341.7:0.1 343:0.04 346:0.01 350:0.01 360:0.015",
"0:0.01 1.3:0.18 3:0.13 5.5:0.07 8.5:0.02 9.5:0.03 11:0.17 12.3:0.4 13.3:0.5 14.5:0.37 16:0.28 18:0.21 21:0.15 25:0.1 28.2:0.12 31:0.06 35:0.04 39:0.04 41.9:0.19 44:0.12 50:0.08 60:0.05 70:0.03 85.5:0.03 90:0.02 92.5:0.02 94:0.27 94.8:0.44 95.8:0.33 97:0.2 100:0.13 105:0.08 112:0.04 118:0.02 122:0.05 123.3:0.1 124.3:0.08 126:0.2 127.8:0.4 129:0.3 131:0.19 135.1:0.14 137:0.08 140:0.055 150:0.03 160:0.02 162.8:0.03 164:0.02 166.1:0.05 167.5:0.04 168.6:0.1 170:0.04 173:0.015 197:0.015 199.5:0.05 202:0.02 219:0.01 222:0.05 223.5:0.035 225.6:0.18 227:0.1 230:0.045 231.8:0.04 234:0.025 236.8:0.035 240:0.015 281.5:0.015 283:0.075 284.5:0.18 286:0.135 288:0.07 291:0.03 295:0.01 327.6:0.02 329:0.01 339.5:0.01 341:0.04 341.7:0.09 343:0.035 346:0.01 360:0.015",
"0:0.01 1.3:0.16 3:0.11 5.5:0.065 8.5:0.02 9.5:0.03 11:0.14 12.3:0.31 13.3:0.39 14.5:0.29 16:0.21 18:0.16 21:0.11 25:0.07 28.2:0.09 31:0.04 35:0.03 39:0.03 41.9:0.17 44:0.12 50:0.08 60:0.05 70:0.03 90:0.02 92.5:0.02 94:0.26 94.8:0.42 95.8:0.31 97:0.19 100:0.12 105:0.08 112:0.04 118:0.02 122:0.04 123.3:0.08 124.3:0.07 126:0.18 127.8:0.36 129:0.27 131:0.17 135.1:0.12 137:0.07 140:0.05 150:0.03 160:0.02 162.8:0.03 164:0.02 166.1:0.05 167.5:0.04 168.6:0.1 170:0.04 173:0.015 197:0.015 199.5:0.05 202:0.02 219:0.01 222:0.05 223.5:0.035 225.6:0.17 227:0.095 230:0.04 234:0.02 240:0.015 281.5:0.015 283:0.075 284.5:0.18 286:0.135 288:0.07 291:0.03 295:0.01 339.5:0.01 341:0.035 341.7:0.08 343:0.03 346:0.01 360:0.015",
"0:0.01 1.3:0.13 3:0.09 5.5:0.055 8.5:0.02 9.5:0.03 11:0.1 12.3:0.22 13.3:0.28 14.5:0.21 16:0.15 18:0.11 21:0.08 25:0.05 28.2:0.07 31:0.03 39:0.03 41.9:0.15 44:0.11 50:0.07 60:0.05 70:0.03 92.5:0.02 94:0.24 94.8:0.38 95.8:0.28 97:0.17 100:0.11 105:0.07 112:0.04 118:0.02 122:0.035 123.3:0.06 124.3:0.05 126:0.15 127.8:0.3 129:0.22 131:0.14 135.1:0.1 137:0.06 140:0.04 150:0.025 166.1:0.045 167.5:0.035 168.6:0.1 170:0.04 173:0.015 197:0.015 199.5:0.04 202:0.02 219:0.01 222:0.045 223.5:0.03 225.6:0.15 227:0.085 230:0.035 234:0.02 240:0.015 281.5:0.015 283:0.075 284.5:0.18 286:0.135 288:0.07 291:0.03 295:0.01 339.5:0.01 341:0.03 341.7:0.07 343:0.03 346:0.01 360:0.015",
"0:0.01 1.3:0.1 3:0.07 5.5:0.045 8.5:0.02 9.5:0.03 11:0.08 12.3:0.16 13.3:0.2 14.5:0.15 16:0.11 18:0.08 21:0.06 25:0.04 28.2:0.05 31:0.03 39:0.03 41.9:0.12 44:0.09 50:0.06 60:0.04 70:0.03 92.5:0.02 94:0.22 94.8:0.34 96.5:0.2 100:0.12 105:0.08 110:0.05 118:0.02 123.3:0.04 124.3:0.035 126:0.11 127.8:0.22 129:0.16 131:0.1 135.1:0.07 137:0.05 140:0.035 150:0.02 166.1:0.04 167.5:0.03 168.6:0.1 170:0.04 173:0.015 199.5:0.035 202:0.02 222:0.04 223.5:0.03 225.6:0.12 227:0.07 230:0.03 240:0.015 281.5:0.015 283:0.07 284.5:0.17 286:0.13 288:0.07 291:0.03 295:0.01 339.5:0.01 341:0.03 341.7:0.06 343:0.025 346:0.01 360:0.015",
"0:0.01 1.3:0.08 3:0.06 5.5:0.04 8.5:0.02 9.5:0.03 11:0.06 12.3:0.1 13.3:0.12 14.5:0.1 17:0.08 21:0.05 28:0.03 39:0.02 41.9:0.09 44:0.07 50:0.05 60:0.035 70:0.025 92.5:0.02 94:0.18 94.8:0.28 96.5:0.16 100:0.12 105:0.09 110:0.05 118:0.02 126:0.07 127.8:0.14 129:0.1 131:0.07 135.1:0.05 140:0.03 150:0.02 166.1:0.035 167.5:0.03 168.6:0.08 170:0.035 173:0.015 222:0.03 225.6:0.09 227:0.05 230:0.025 240:0.015 281.5:0.015 283:0.07 284.5:0.17 286:0.13 288:0.07 291:0.03 295:0.01 339.5:0.01 341.7:0.05 343:0.02 346:0.01 360:0.015",
"0:0.01 1.3:0.06 4:0.04 8.5:0.02 10:0.03 12.5:0.09 15:0.07 19:0.07 25:0.04 29:0.02 39:0.02 41.9:0.05 45:0.04 55:0.03 70:0.02 92.5:0.02 94:0.15 94.8:0.23 96.5:0.12 105:0.08 110:0.04 118:0.02 126:0.025 127.8:0.05 130:0.025 166.1:0.025 168.6:0.06 170:0.03 173:0.015 223:0.02 225.6:0.06 228:0.025 281.5:0.015 283:0.07 284.5:0.17 286:0.13 288:0.07 291:0.03 295:0.01 360:0.015",
"0:0.02 1.3:0.05 4:0.035 8.5:0.02 10:0.03 12.3:0.09 14:0.06 20:0.04 30:0.02 41.9:0.04 45:0.02 92.5:0.02 94:0.13 94.8:0.2 96.5:0.1 105:0.07 110:0.04 118:0.02 172:0.02 174.3:0.04 176:0.02 223:0.015 225.6:0.04 228:0.02 281.5:0.015 283:0.07 284.5:0.17 286:0.13 288:0.07 291:0.03 295:0.01 360:0.015"
];

const topBand = [
"0:0.03 3:0.02 6:0.03 11.3:0.05 14:0.03 20:0.035 25:0.02 30:0.015 35:0.02 40:0.01 46:0.025 52:0.02 58:0.03 64:0.02 70:0.015 76:0.02 82:0.01 88:0.025 92.5:0.02 94.8:0.16 96.5:0.1 100:0.08 106:0.075 110:0.05 116:0.02 122:0.025 128:0.015 134:0.03 140:0.02 146:0.01 152:0.025 158:0.02 164:0.03 170:0.015 174.3:0.04 178:0.02 186:0.025 192:0.01 198:0.03 204:0.02 210:0.03 216:0.015 222:0.025 228:0.02 234:0.035 240:0.015 246:0.02 252:0.03 258:0.015 264:0.025 270:0.02 276:0.015 281.5:0.02 283:0.07 284.5:0.16 286:0.125 288:0.07 291:0.03 296:0.02 302:0.025 308:0.015 314:0.03 320:0.02 326:0.025 332:0.02 338:0.03 344:0.015 350:0.025 356:0.02 360:0.02",
"0.2:0.038 2.2:0.032 4.1:0.04 6.1:0.015 8:0.04 10:0.065 12:0.08 13.9:0.065 15.2:0.08 17.2:0.05 19.2:0.065 21.1:0.032 23.1:0.032 25.1:0.05 27:0.032 29:0.015 30.9:-0.017 33.6:-0.007 35.5:0.006 37.5:0.04 40.1:0.032 42.7:0.038 44.7:0.058 46.6:0.038 48.6:0.032 50.6:0.048 52.5:-0.017 54.5:0.025 57.1:0.058 59.1:0.032 61.1:-0.034 63:0.015 65:0.015 67.6:0.032 69.6:-0.017 71.5:-0.034 73.5:0 75.4:0.032 77.4:0.015 80:0 82:-0.017 84:0.032 85.9:0.038 88.5:0 91.2:0.032 93.5:0.06 94.8:0.18 95.7:0.114 97:0.08 101.6:0.065 104.9:0.032 106.2:0.08 108.2:0 109.5:0.032 110.8:0.048 112.1:-0.034 114.7:0.032 117.3:0.015 119.9:-0.034 122.6:0.048 125.2:0.032 126.5:0 127.3:0 127.6:-0.38 127.9:0 128.5:0.032 130.4:0.032 134.3:0.048 137:0.032 139.6:0.015 142.2:0 144.8:0.032 146.1:0.114 147.4:-0.066 149.4:-0.017 151.4:0.032 154:0.065 156.6:0 159.2:0.015 161.8:0 164.5:0.032 165.8:-0.066 167.1:0.032 168.4:0.03 168.7:-2.05 169:0.03 169.7:0.03 170:-1.77 170.3:0.04 170.7:0.065 173.6:-0.034 176.2:0.065 178.8:0.065 180.8:0.032 182.8:0.015 184.7:0.065 185.8:0.04 186:-0.525 186.3:0.02 186.6:-0.13 187:0.097 187.8:0.05 188:-0.79 188.3:0.02 188.7:-0.46 188.9:-0.75 189.2:0 189.6:-0.034 191.9:0.032 194.5:0.065 196.5:-0.034 198.5:0 200.4:0.032 202.4:0 204.5:0.02 204.7:-0.69 204.9:0.032 205.5:0.03 205.7:-0.66 205.9:0 208.9:0.032 211.4:0.03 211.6:-2.31 211.8:0.032 214.2:-0.034 216.8:-0.066 219.4:0.032 221.8:0.03 222:-1.25 222.2:0.032 223.1:0.03 223.3:-1.51 223.5:0.032 226:0.048 228.6:0.032 231.2:0.065 233.8:0.015 236.4:0.032 239:-0.034 241.7:0.015 244.3:0.065 246.9:0.032 249.5:0 250.3:0 250.5:-1.57 250.7:0.032 253.4:-0.034 255.2:0 255.4:-0.71 255.6:0.032 258.7:0.015 261.3:0.065 263.9:0.032 266.5:-0.066 268.5:-0.165 270.5:0.032 271.8:0.032 274.4:-0.017 277:0.032 278.3:-0.034 278.9:0 279.1:-0.95 279.4:0.02 279.6:-0.75 280:0 280.3:-1.41 280.6:0.065 282.2:0.097 284.5:0.2 286.8:0.065 288.8:0.032 292:0 295.3:0 297.9:-0.066 300:0 300.2:-2.26 300.5:0.032 301.3:0.03 301.5:-2.82 301.8:-0.034 304.5:0.032 307.1:0.032 309.7:0 312.3:0.032 314.7:0.03 314.9:-1.33 315.1:0 315.3:-0.92 315.6:0 315.9:-1.41 316.2:0.032 318.9:0.015 319.3:0 319.5:-0.36 319.8:0 323.5:0.032 323.9:0.03 324.1:-0.82 324.4:0 328:0.032 331.4:0.03 331.6:-1.08 331.8:0 332.1:-0.59 332.4:0.032 335.9:0 338.5:0.032 341.1:0.015 342.1:-0.165 343.7:0.032 347.7:0 351.6:0.032 354.2:0 354.7:0 354.9:-0.33 355.1:0.032 358.1:0.032 360:-0.034",
"0.2:0 1.5:0.08 3.5:0.045 4.8:0.03 6.7:0.045 8:0.08 9.7:0.01 11.3:0.045 13.3:0.06 15.2:0.03 17.2:0 19.2:0.03 20.8:0.055 22.4:0.01 24.4:0.03 26.4:-0.05 28.3:0 30.3:0.03 32.3:0.01 34.2:0 36.2:-0.04 38.1:0 40.1:-0.02 41.4:0.03 42.7:0.08 44:0.13 45.3:0.08 47:0.03 48.6:0.045 50.6:0.06 51.9:0.03 53.9:0.095 55.8:0.01 57.8:0.045 59.1:-0.02 61.1:0.03 63:0.045 65:-0.02 66.9:0.01 68.9:0.06 70.9:0.01 72.8:0.03 74.5:-0.07 75.4:-0.1 76.8:0 78.7:0.03 80.7:0.045 82.6:0.11 84.6:0.095 85.9:0 87.2:-0.05 88.5:-0.04 91.2:0.03 92.5:0.08 95.1:0.13 97:0.06 99:0.045 101.6:0.13 104.2:0.045 106.9:0.03 109.5:-0.05 112.1:0.03 114.7:0.08 117.3:0.03 119.9:0.01 122.6:0.045 125.2:0.01 127.8:0.045 130.4:0.01 133:0.08 134.3:0.14 135.7:0.11 138.3:0.06 140.9:-0.07 143.5:0.095 146.1:-0.04 148.7:0.06 151.4:0.13 153.3:0.18 155.3:0.095 157.9:0.03 160.5:0.08 163.8:-0.02 165.8:-0.07 167.7:0.045 169.7:-0.086 171.7:0.14 173.6:-0.04 175.6:-0.12 177.5:0 178.8:0.11 180.2:0.06 181.5:-0.04 184.1:0.01 185.8:0 186:-0.27 186.3:0.03 189.3:0.03 191.9:0.03 194.5:0.08 195.9:0.16 197.2:-0.07 198.5:0 200.4:0.14 202.4:0.03 203.7:0.045 205:-0.04 206.3:0.03 207.6:0.11 209.6:0.13 211.6:0.08 213.5:0.03 215.5:0.03 216.8:0.095 218.1:0 220.7:0.14 222:0.11 224:0.08 226:0.01 228.6:0.01 231.2:0.06 233.8:0.03 236.4:0.11 239:0.045 241.7:0.16 243.6:0.13 245.6:0.08 248.2:0.01 249.5:-0.07 250.8:0.03 252.8:0.13 254.7:0.19 257.4:0.045 260:0.16 262.6:0.045 265.2:-0.04 267.8:0.03 269.1:-0.135 271.1:0.06 273.1:-0.02 275.7:0.01 278.3:-0.04 280.3:0 282.2:0.11 284.5:0.26 286.8:0.16 288.8:0.06 291.4:-0.04 294:-0.05 296.6:0.01 299.2:0.03 301.9:-0.02 304.5:0.03 307.1:0 309.7:0.045 312.3:0.06 314.9:0.01 317.6:-0.02 320.2:-0.04 322.8:0.03 325.4:-0.04 328:-0.135 330.7:0.03 333.3:0.13 335.9:0.08 338.5:0.16 341.1:0.03 343.7:0.01 346.4:0 349:-0.05 351.6:0 354.2:0.03 356.8:0.01 359.5:0.06 360:0.05",
"0.2:0.09 2.2:0.01 3.8:0.107 5.1:0.025 6.4:-0.01 8:0.01 9.4:0.107 10.7:0.025 12.3:0.058 13.3:0.123 14.3:0.01 15.6:0.01 16.9:0.09 19.2:0.172 20.8:0.14 21.8:0.156 23.1:0.01 24.1:-0.155 25.1:0.041 27:0.107 28.3:-0.024 29.6:0.01 31.3:-0.073 32.6:0.09 34.2:0.01 36.2:0.156 38.1:0.058 39.8:0.041 41.1:-0.122 43.1:0.123 44.7:0.041 46.3:0.189 48.3:0.025 49.9:0.189 51.5:-0.057 54.2:0.107 55.8:-0.008 59.1:0.14 60.4:-0.008 62:0.189 63.3:0.123 65.6:-0.09 66.9:-0.122 68.6:-0.008 69.9:0.123 71.5:-0.139 73.2:-0.22 74.8:-0.204 76.1:0.058 77.4:0.287 79:0.074 80:0.189 81.7:-0.073 82.6:0.107 84.3:0.189 85.3:0.123 86.6:0.418 87.9:0.238 88.9:-0.04 89.9:0.123 91.2:-0.024 92.5:0.041 93.8:0.009 95.1:0.041 96.7:0.123 97.7:0.009 99.3:0.205 100.6:0.025 102:0.009 102.9:0.058 104.2:-0.057 105.6:0.123 106.5:0.369 107.5:0.156 108.5:0.009 109.5:0.123 111.1:0.09 112.8:0.025 113.7:0.156 114.7:0.287 115.4:0.254 116.4:0.058 117.7:-0.106 119.3:0.107 120.6:0.074 121.9:-0.008 123.2:0.058 124.2:-0.122 125.2:0.09 126.2:0.254 127.2:-0.04 128.8:0.14 129.8:0.189 131.1:0.107 132.1:0.156 133.7:0.025 134.3:0.418 135.3:0.418 136.6:-0.04 137.6:0.484 138.6:0.287 140.2:0.09 141.5:0.238 142.9:0.353 144.2:-0.04 145.5:0.009 146.8:0.27 148.1:0.09 150.1:0.52 151.4:0.5 152.7:0.09 154:0.435 155.3:0.287 156.6:-0.04 157.9:0.27 159.2:0.058 160.5:-0.155 160.9:0.9 161.3:-0.139 162.5:0.9 163.1:0.123 164.5:0.025 165.8:-0.139 167.1:-0.27 169:-0.302 170.3:0.9 171.3:0.123 172.3:0.8 173.6:0.156 174.3:0.9 175.6:0.287 176.6:0.8 177.9:0.123 178.8:0.9 180.1:0.189 181.5:0.222 182.8:0.025 184.1:0.9 184.7:-0.106 185.7:0.9 186.4:-0.237 187.3:0.254 188.7:-0.335 189.6:0.55 190.6:-0.04 191.9:0.123 192.9:0.287 193.9:0.32 195.2:0.8 196.2:0.484 197.2:0.9 198.5:0.58 199.8:0.09 201.1:-0.008 201.7:0.32 203:0.9 204:0.55 205:-0.204 206.3:0.385 207.6:0.32 208.9:0.123 210.3:0.222 211.6:-0.106 212.9:0.9 214.2:0.123 215.5:-0.04 216.8:0.9 218.1:0.222 219.4:-0.204 220.7:0.287 221.4:0.9 222.4:-0.139 224:-0.302 226:0.254 227.3:0.222 228.6:0.123 229.9:-0.04 231.2:0.189 232.5:0.025 233.8:0.189 235.1:0.32 236.1:0.52 237.1:-0.04 238.4:0.156 239.7:0.189 241:0.32 242:0.9 243.3:0.45 244.3:0.9 245.6:0.058 246.9:-0.008 248.2:0.32 249.5:-0.04 250.8:0.9 252.1:-0.139 253.4:0.222 254.7:0.254 256.1:0.189 257.4:0.55 258.7:0.9 260:-0.073 261.3:0.09 262.6:0.9 263.9:0.123 265.2:0.9 266.5:-0.139 267.8:0.32 269.1:0.156 270.5:0.123 271.8:0.222 273.1:0.287 274.4:0.025 275.7:0.254 277:0.32 278:0.52 278.6:0.9 279.6:-0.204 280.6:0.025 282.2:-0.04 283.5:0.222 284.8:0.287 286.2:0.123 287.5:-0.008 288.8:0.222 290.1:0.156 291.1:0.9 292:0.353 293.4:0.123 294.7:0.189 296:0.287 297.3:-0.171 298.6:0.9 299.9:-0.237 301.2:0.025 302.5:-0.04 303.8:-0.106 305.1:0.32 306.4:0.9 307.8:-0.204 309.1:0.156 310.4:0.254 311.7:0.222 313:0.9 314.3:-0.008 316.3:0.156 317.6:0.353 318.9:-0.008 320.8:0.9 321.5:0.287 322.2:0.9 323.5:-0.04 324.8:0.09 326.1:-0.106 327.4:0.287 328.7:0.123 330.7:0.254 332:-0.073 333.3:0.52 334.6:0.9 335.9:-0.008 337.2:0.45 338.5:0.8 339.8:0.09 341.1:-0.073 342.4:0.156 343.7:0.9 345:0.353 346.4:0.025 347.7:0.123 349:0.222 350.3:-0.04 351.6:0.123 352.9:-0.008 354.2:-0.139 355.5:-0.04 356.8:0.55 358.1:0.9 359.4:0.287 360:0.484"
];

// ---------------- build ----------------
const T0 = Date.UTC(2026, 3, 27, 2, 0, 0);
const toDate = m => new Date(T0 + m * 60000);
const parseHM = s => { const [h, m] = s.split(":").map(Number); return toDate((h - 2) * 60 + m); };
const xTickDates = xTickLabels.map(parseHM);
const minorTickDates = d3.utcMinute.every(2).range(toDate(0), toDate(360.5));

const colorScale = d3.scaleLinear().domain(colorStopChannels).range(colorStopValues).interpolate(d3.interpolateRgb);
const chanColor = offsets.map((_, i) => colorScale(i));

const bands = [...lowBand, ...midBand, ...topBand];
const rows = [];
bands.forEach((s, ch) => {
  const pts = s.trim().split(/\s+/).map(p => p.split(":").map(Number));
  pts.sort((a, b) => a[0] - b[0]);
  pts.forEach(([t, v]) => rows.push({ch, time: toDate(t), y: offsets[ch] + v, color: chanColor[ch]}));
});

const dotRows = offsets.map((y, i) => ({ch: i, phase: dotPhase[i], y, color: chanColor[i]}));

const baseStyle = {fontFamily: "DejaVu Sans, sans-serif", fontSize: "17px", background: "white", color: "black", overflow: "visible"};

const main = Plot.plot({
  width: 1900, height: 1500,
  marginLeft: 49, marginRight: 17, marginTop: 62, marginBottom: 48,
  x: {type: "utc", domain: [toDate(0), toDate(360)]},
  y: {domain: [-0.2, 10]},
  color: {type: "identity"},
  style: baseStyle,
  marks: [
    Plot.ruleY(offsets, {stroke: "#b0b0b0", strokeWidth: 1.3}),
    Plot.line(rows, {x: "time", y: "y", z: "ch", stroke: d => d.color, strokeWidth: 2.3, strokeLinejoin: "round", clip: true}),
    Plot.frame({stroke: "black", strokeWidth: 1.2}),
    Plot.axisY({ticks: yTicks, tickSize: 5, tickPadding: 4, label: null, tickFormat: d => String(d)}),
    Plot.axisX({ticks: minorTickDates, tickSize: 3, tickFormat: () => "", label: null}),
    Plot.axisX({ticks: xTickDates, tickSize: 5, tickPadding: 6, tickFormat: d3.utcFormat("%H:%M"), label: null})
  ]
});
document.getElementById("main").append(main);

const side = Plot.plot({
  width: 90, height: 1500,
  marginLeft: 20, marginRight: 18, marginTop: 62, marginBottom: 48,
  x: {domain: [-1.625, 1.625]},
  y: {domain: [-0.2, 10]},
  color: {type: "identity"},
  style: baseStyle,
  marks: [
    Plot.line(dotRows, {x: "phase", y: "y", stroke: "#333", strokeWidth: 1, clip: true}),
    Plot.dot(dotRows, {x: "phase", y: "y", r: 5.4, fill: d => d.color, stroke: "none", clip: true}),
    Plot.frame({stroke: "black", strokeWidth: 1.2}),
    Plot.axisY({ticks: yTicks, tickSize: 5, tickFormat: () => "", label: null}),
    Plot.axisX({ticks: sideXTicks, tickSize: 5, tickFormat: () => "", label: null})
  ]
});
document.getElementById("side").append(side);
document.getElementById("title").textContent = titleText;
</script>
</body>
</html>
